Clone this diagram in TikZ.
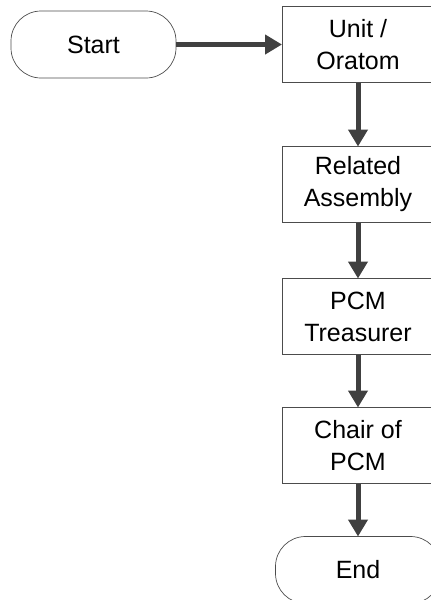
\documentclass[tikz,border=0pt]{standalone}
\usepackage{fontspec}
\setmainfont{Liberation Sans}
\usetikzlibrary{arrows.meta}
\usetikzlibrary{positioning}
\definecolor{arrowgray}{RGB}{64,64,64}
\tikzset{%
  >={Triangle[width=19pt,length=17pt]},
  % Specifications for style of nodes:
  base/.style = {draw=black!70, line width=0.7pt, outer sep=0pt,
    align=center, font=\fontsize{25}{32}\selectfont},
  terminal/.style = {base, rectangle, rounded corners=30pt,
    minimum width=165pt, minimum height=67pt},
  stepbox/.style = {base, rectangle,
    minimum width=152pt, minimum height=76pt},
  flow/.style = {->, draw=arrowgray, fill=arrowgray, line width=5pt},
}

\begin{document}
\begin{tikzpicture}[x=1pt,y=1pt]
        \useasboundingbox (0,0) rectangle (431,-600);
        % Specification of nodes (position, etc.)
        \node(Start)[terminal] at (93.5,-44.5) {Start};
        \node(Unit)[stepbox,right=106pt of Start]{Unit /\\ Oratom};
        \node(Assembly)[stepbox,below=64pt of Unit]{Related\\ Assembly};
        \node(Treasurer)[stepbox,below=56pt of Assembly]{PCM\\ Treasurer};
        \node(Chair)[stepbox,below=53pt of Treasurer]{Chair of\\ PCM};
        \node(End)[terminal,below=53pt of Chair]{End};
        \draw[flow](Start) -- (Unit);
        \draw[flow](Unit) -- (Assembly);
        \draw[flow](Assembly) -- (Treasurer);
        \draw[flow](Treasurer) -- (Chair);
        \draw[flow](Chair) -- (End);
    \end{tikzpicture}
\end{document}
